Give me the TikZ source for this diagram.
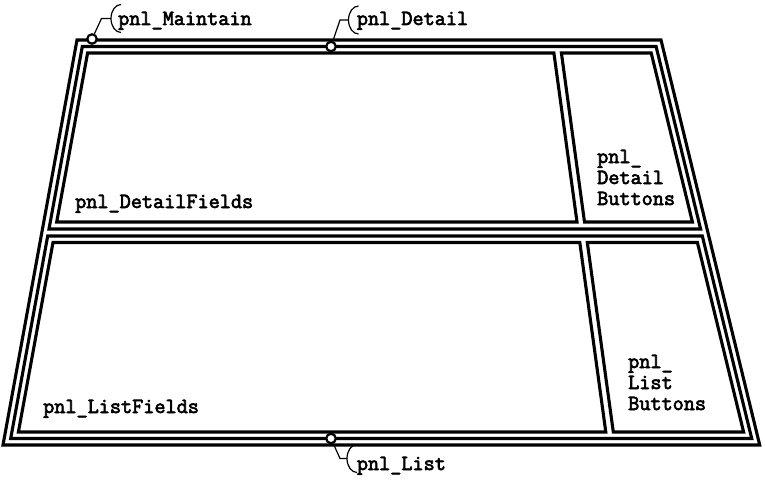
\documentclass[tikz,border=0pt]{standalone}
\usepackage{fontspec}
\newfontfamily\pnlfont{Latin Modern Mono}[FakeBold=3]

\begin{document}
\begin{tikzpicture}[x=1pt, y=1pt,
            panel/.style={line width=3.1pt},
            pin/.style={circle, draw, fill=white, line width=2.2pt, inner sep=0pt, minimum size=9.5pt},
            lead/.style={line width=1.2pt},
            lbl/.style={font=\pnlfont\fontsize{21.6}{21}\selectfont, inner sep=0pt, align=left}]
            \useasboundingbox (0,0) rectangle (765,483);

            \coordinate (Ma) at (77,443);
            \coordinate (Mb) at (661,443);
            \coordinate (Mc) at (759.7,38);
            \coordinate (Md) at (3,38);

            \coordinate (Da) at (82.3,436.5);
            \coordinate (Db) at (656.1,436.5);
            \coordinate (Dc) at (700.6,254);
            \coordinate (Dd) at (49.0,254);

            \coordinate (La) at (47.7,247);
            \coordinate (Lb) at (702.3,247);
            \coordinate (Lc) at (751.7,44.5);
            \coordinate (Ld) at (10.7,44.5);

            \coordinate (DFa) at (87.6,430);
            \coordinate (DFb) at (553.9,430);
            \coordinate (DFc) at (577.0,261);
            \coordinate (DFd) at (56.7,261);

            \coordinate (DBa) at (561.4,430);
            \coordinate (DBb) at (651.2,430);
            \coordinate (DBc) at (692.4,261);
            \coordinate (DBd) at (584.5,261);

            \coordinate (LFa) at (53,240.5);
            \coordinate (LFb) at (579.8,240.5);
            \coordinate (LFc) at (605.8,51);
            \coordinate (LFd) at (18.4,51);

            \coordinate (LBa) at (587.3,240.5);
            \coordinate (LBb) at (697.4,240.5);
            \coordinate (LBc) at (743.6,51);
            \coordinate (LBd) at (613.3,51);

            \draw[panel] (Ma) -- (Mb) -- (Mc) -- (Md) -- cycle;
            \draw[panel] (Da) -- (Db) -- (Dc) -- (Dd) -- cycle;
            \draw[panel] (La) -- (Lb) -- (Lc) -- (Ld) -- cycle;
            \draw[panel] (DFa) -- (DFb) -- (DFc) -- (DFd) -- cycle;
            \draw[panel] (DBa) -- (DBb) -- (DBc) -- (DBd) -- cycle;
            \draw[panel] (LFa) -- (LFb) -- (LFc) -- (LFd) -- cycle;
            \draw[panel] (LBa) -- (LBb) -- (LBc) -- (LBd) -- cycle;

            \node[lbl, anchor=base west] (tDF) at (75,275) {pnl\_DetailFields};
            \node[lbl, anchor=base west] (tLF) at (43,70) {pnl\_ListFields};
            \node[lbl, anchor=base west] (tDB) at (597,278) {pnl\_\\Detail\\Buttons};
            \node[lbl, anchor=base west] (tLB) at (628,73) {pnl\_\\List\\Buttons};

            \node[pin] (pM) at (92,444) {};
            \coordinate (kM) at (101.5,464.5);
            \coordinate (bM) at (111,464.5);
            \draw[lead] (pM) -- (kM) -- (bM);
            \draw[lead] (bM) ++(10,14) arc[start angle=90, end angle=270, x radius=10pt, y radius=14pt];
            \node[lbl, anchor=base west] (tM) at (118,458) {pnl\_Maintain};

            \node[pin] (pD) at (331,436.5) {};
            \coordinate (kD) at (340,463);
            \coordinate (bD) at (348.5,463);
            \draw[lead] (pD) -- (kD) -- (bD);
            \draw[lead] (bD) ++(10,14) arc[start angle=90, end angle=270, x radius=10pt, y radius=14pt];
            \node[lbl, anchor=base west] (tD) at (356.7,458) {pnl\_Detail};

            \node[pin] (pL) at (331,44.5) {};
            \coordinate (kL) at (340,24.5);
            \coordinate (bL) at (347,24.5);
            \draw[lead] (pL) -- (kL) -- (bL);
            \draw[lead] (bL) ++(10,14) arc[start angle=90, end angle=270, x radius=10pt, y radius=14pt];
            \node[lbl, anchor=base west] (tL) at (356.7,13) {pnl\_List};
        \end{tikzpicture}
\end{document}
